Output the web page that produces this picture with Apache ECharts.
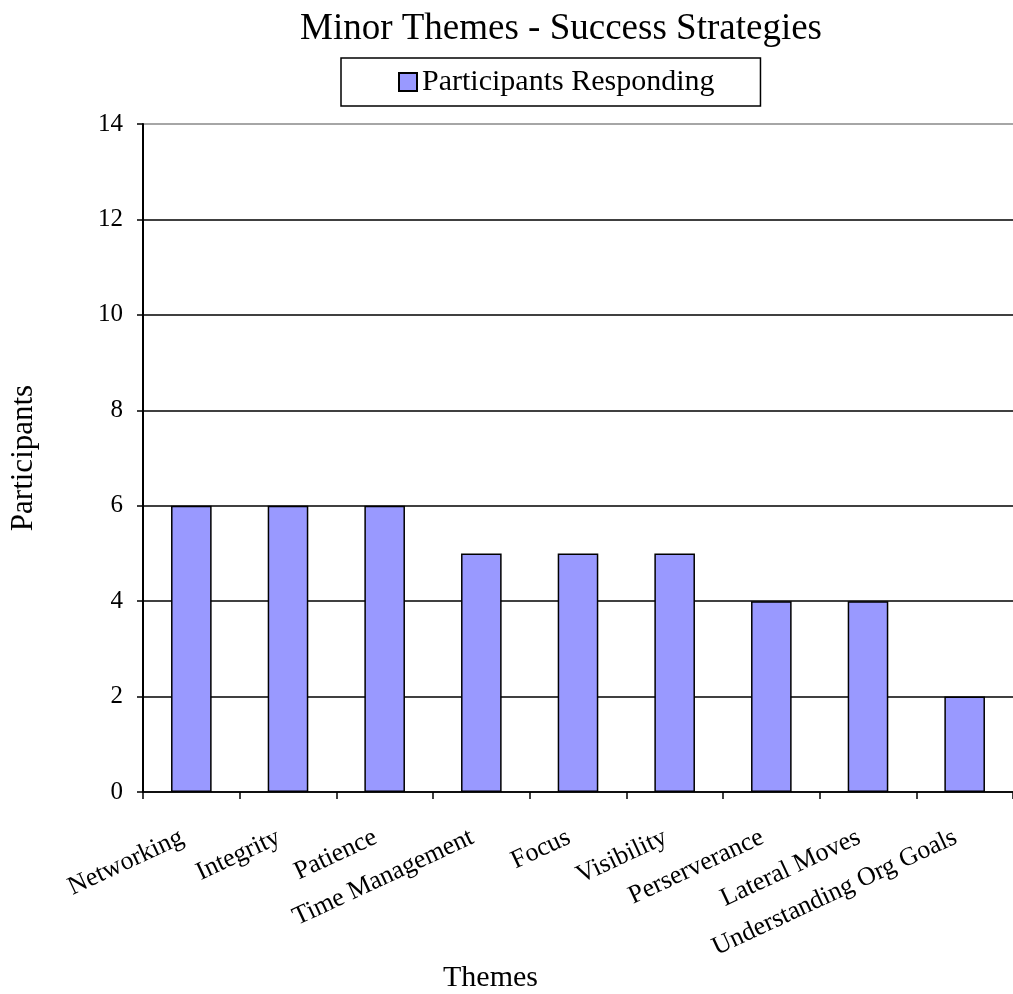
<!DOCTYPE html>
<html><head><meta charset="utf-8">
<script src="https://cdn.jsdelivr.net/npm/echarts@6/dist/echarts.min.js"></script>
<style>html,body{margin:0;padding:0;background:#fff}#c{width:1013px;height:994px}</style>
</head><body><div id="c"></div>
<script>
const categories = ['Networking','Integrity','Patience','Time Management','Focus','Visibility','Perserverance','Lateral Moves','Understanding Org Goals'];
const participants = [6,6,6,5,5,5,4,4,2];
const yTicks = {min:0, max:14, interval:2};
const FONT = '"Liberation Serif","Times New Roman",serif';
const chart = echarts.init(document.getElementById('c'), null, {renderer:'canvas'});
chart.setOption({
  animation:false,
  backgroundColor:'#fff',
  title:{text:'Minor Themes - Success Strategies', left:295, top:6,
    textStyle:{fontFamily:FONT, fontSize:37, fontWeight:'normal', color:'#000'}},
  legend:{data:['Participants Responding'], left:341, top:58, orient:'horizontal',
    icon:'rect', borderColor:'#000', borderWidth:1.5, padding:[9,46,9,57],
    itemWidth:18, itemHeight:18, itemGap:10,
    textStyle:{fontFamily:FONT, fontSize:30, color:'#000'}},
  grid:{left:143, right:0, top:124, bottom:202, containLabel:false},
  xAxis:{type:'category', data:categories,
    axisLine:{lineStyle:{color:'#000', width:1.5}},
    axisTick:{show:true, alignWithLabel:false, length:7, lineStyle:{color:'#000', width:1.5}},
    axisLabel:{rotate:25, interval:0, margin:40, padding:[0,10,0,0], fontFamily:FONT, fontSize:26, color:'#000'}},
  yAxis:{type:'value', min:yTicks.min, max:yTicks.max, interval:yTicks.interval,
    name:'Participants', nameLocation:'middle', nameGap:104,
    nameTextStyle:{fontFamily:FONT, fontSize:31, color:'#000'},
    axisLine:{show:true, lineStyle:{color:'#000', width:2}},
    axisTick:{show:true, length:6, lineStyle:{color:'#000', width:1.5}},
    axisLabel:{margin:20, fontFamily:FONT, fontSize:25, color:'#000'},
    splitLine:{show:true, lineStyle:{color:['#000','#000','#000','#000','#000','#000','#000','#888'], width:1.5}}},
  graphic:[{type:'text', left:443, top:963, style:{text:'Themes', font:'30px '+FONT, fill:'#000'}}],
  series:[{name:'Participants Responding', type:'bar', data:participants, barWidth:'42%',
    itemStyle:{color:'#9999FF', borderColor:'#000', borderWidth:1.5}}]
});
</script></body></html>
